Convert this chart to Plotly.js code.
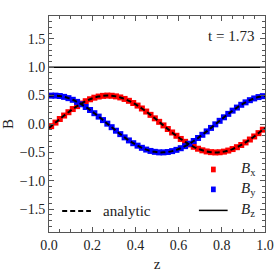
<!DOCTYPE html>
<html><head><meta charset="utf-8">
<script src="https://cdn.plot.ly/plotly-3.0.1.min.js"></script>
<style>html,body{margin:0;padding:0;background:#fff}#c{width:274px;height:274px}</style>
</head><body><div id="c"></div>
<script>
const z = [0.01,0.03,0.05,0.07,0.09,0.11,0.13,0.15,0.17,0.19,0.21,0.23,0.25,0.27,0.29,0.31,0.33,0.35,0.37,0.39,0.41,0.43,0.45,0.47,0.49,0.51,0.53,0.55,0.57,0.59,0.61,0.63,0.65,0.67,0.69,0.71,0.73,0.75,0.77,0.79,0.81,0.83,0.85,0.87,0.89,0.91,0.93,0.95,0.97,0.99];
const Bx = [-0.038,0.025,0.088,0.149,0.207,0.263,0.314,0.360,0.401,0.435,0.463,0.483,0.495,0.500,0.497,0.486,0.467,0.441,0.408,0.369,0.324,0.273,0.219,0.161,0.100,0.038,-0.025,-0.088,-0.149,-0.207,-0.263,-0.314,-0.360,-0.401,-0.435,-0.463,-0.483,-0.495,-0.500,-0.497,-0.486,-0.467,-0.441,-0.408,-0.369,-0.324,-0.273,-0.219,-0.161,-0.100];
const By = [0.499,0.499,0.492,0.477,0.455,0.426,0.389,0.347,0.299,0.246,0.190,0.130,0.069,0.006,-0.056,-0.118,-0.178,-0.235,-0.289,-0.338,-0.381,-0.419,-0.450,-0.474,-0.490,-0.499,-0.499,-0.492,-0.477,-0.455,-0.426,-0.389,-0.347,-0.299,-0.246,-0.190,-0.130,-0.069,-0.006,0.056,0.118,0.178,0.235,0.289,0.338,0.381,0.419,0.450,0.474,0.490];
const zAnalytic = [0.0,0.01,0.03,0.05,0.07,0.09,0.11,0.13,0.15,0.17,0.19,0.21,0.23,0.25,0.27,0.29,0.31,0.33,0.35,0.37,0.39,0.41,0.43,0.45,0.47,0.49,0.51,0.53,0.55,0.57,0.59,0.61,0.63,0.65,0.67,0.69,0.71,0.73,0.75,0.77,0.79,0.81,0.83,0.85,0.87,0.89,0.91,0.93,0.95,0.97,0.99,1.0];
const BxAnalytic = [-0.069,-0.038,0.025,0.088,0.149,0.207,0.263,0.314,0.360,0.401,0.435,0.463,0.483,0.495,0.500,0.497,0.486,0.467,0.441,0.408,0.369,0.324,0.273,0.219,0.161,0.100,0.038,-0.025,-0.088,-0.149,-0.207,-0.263,-0.314,-0.360,-0.401,-0.435,-0.463,-0.483,-0.495,-0.500,-0.497,-0.486,-0.467,-0.441,-0.408,-0.369,-0.324,-0.273,-0.219,-0.161,-0.100,-0.069];
const ByAnalytic = [0.495,0.499,0.499,0.492,0.477,0.455,0.426,0.389,0.347,0.299,0.246,0.190,0.130,0.069,0.006,-0.056,-0.118,-0.178,-0.235,-0.289,-0.338,-0.381,-0.419,-0.450,-0.474,-0.490,-0.499,-0.499,-0.492,-0.477,-0.455,-0.426,-0.389,-0.347,-0.299,-0.246,-0.190,-0.130,-0.069,-0.006,0.056,0.118,0.178,0.235,0.289,0.338,0.381,0.419,0.450,0.474,0.490,0.495];
const zBz = [0, 1];
const Bz = [1, 1];
const timeLabel = "t = 1.73";
const legendLabels = ["<i>B</i><sub>x</sub>", "<i>B</i><sub>y</sub>", "<i>B</i><sub>z</sub>", "analytic"];

const font = "Liberation Serif, Times New Roman, serif";
const traces = [
  {x: z, y: Bx, mode: "markers", marker: {symbol: "square", size: 6, color: "#ff0000"}, showlegend: false},
  {x: z, y: By, mode: "markers", marker: {symbol: "square", size: 6, color: "#0000ff"}, showlegend: false},
  {x: zAnalytic, y: BxAnalytic, mode: "lines", line: {color: "#000", width: 2, dash: "5px,3px", shape: "spline"}, showlegend: false},
  {x: zAnalytic, y: ByAnalytic, mode: "lines", line: {color: "#000", width: 2, dash: "5px,3px", shape: "spline"}, showlegend: false},
  {x: zBz, y: Bz, mode: "lines", line: {color: "#000", width: 1.5}, showlegend: false}
];
const axisCommon = {
  showgrid: false, zeroline: false, showline: true, linecolor: "#555", linewidth: 1,
  mirror: "allticks", ticks: "inside", ticklen: 5, tickcolor: "#555", tickwidth: 1,
  tickfont: {family: font, size: 14, color: "#222"}
};
const layout = {
  width: 274, height: 274,
  margin: {l: 49, r: 9, t: 16, b: 42},
  paper_bgcolor: "#fff", plot_bgcolor: "#fff",
  font: {family: font},
  xaxis: Object.assign({}, axisCommon, {
    range: [0, 1], tickvals: [0, 0.2, 0.4, 0.6, 0.8, 1.0], ticktext: ["0.0","0.2","0.4","0.6","0.8","1.0"],
    minor: {dtick: 0.05, ticks: "inside", ticklen: 3, tickcolor: "#555"},
    title: {text: "z", font: {family: font, size: 15, color: "#222"}, standoff: 6}
  }),
  yaxis: Object.assign({}, axisCommon, {
    range: [-1.9, 1.9], tickvals: [-1.5, -1.0, -0.5, 0, 0.5, 1.0, 1.5], ticktext: ["\u22121.5","\u22121.0","\u22120.5","0.0","0.5","1.0","1.5"],
    minor: {dtick: 0.1, ticks: "inside", ticklen: 3, tickcolor: "#555"},
    title: {text: "B", font: {family: font, size: 15, color: "#222"}, standoff: 10}
  }),
  shapes: [
    {type: "rect", xref: "x", yref: "y", x0: 0.750, x1: 0.772, y0: -0.85, y1: -0.75, fillcolor: "#ff0000", line: {width: 0}},
    {type: "rect", xref: "x", yref: "y", x0: 0.750, x1: 0.772, y0: -1.20, y1: -1.10, fillcolor: "#0000ff", line: {width: 0}},
    {type: "line", xref: "x", yref: "y", x0: 0.694, x1: 0.827, y0: -1.52, y1: -1.52, line: {color: "#000", width: 1.5}},
    {type: "line", xref: "x", yref: "y", x0: 0.061, x1: 0.194, y0: -1.53, y1: -1.53, line: {color: "#000", width: 2, dash: "5px,3px"}}
  ],
  annotations: [
    {xref: "x", yref: "y", x: 0.956, y: 1.544, xanchor: "right", yanchor: "middle", showarrow: false, text: timeLabel, font: {family: font, size: 15, color: "#222"}},
    {xref: "x", yref: "y", x: 0.88, y: -0.80, xanchor: "left", yanchor: "middle", showarrow: false, text: legendLabels[0], font: {family: font, size: 15, color: "#222"}},
    {xref: "x", yref: "y", x: 0.88, y: -1.15, xanchor: "left", yanchor: "middle", showarrow: false, text: legendLabels[1], font: {family: font, size: 15, color: "#222"}},
    {xref: "x", yref: "y", x: 0.88, y: -1.52, xanchor: "left", yanchor: "middle", showarrow: false, text: legendLabels[2], font: {family: font, size: 15, color: "#222"}},
    {xref: "x", yref: "y", x: 0.24, y: -1.53, xanchor: "left", yanchor: "middle", showarrow: false, text: legendLabels[3], font: {family: font, size: 15, color: "#222"}}
  ]
};
Plotly.newPlot("c", traces, layout, {staticPlot: true, displayModeBar: false});
</script></body></html>
